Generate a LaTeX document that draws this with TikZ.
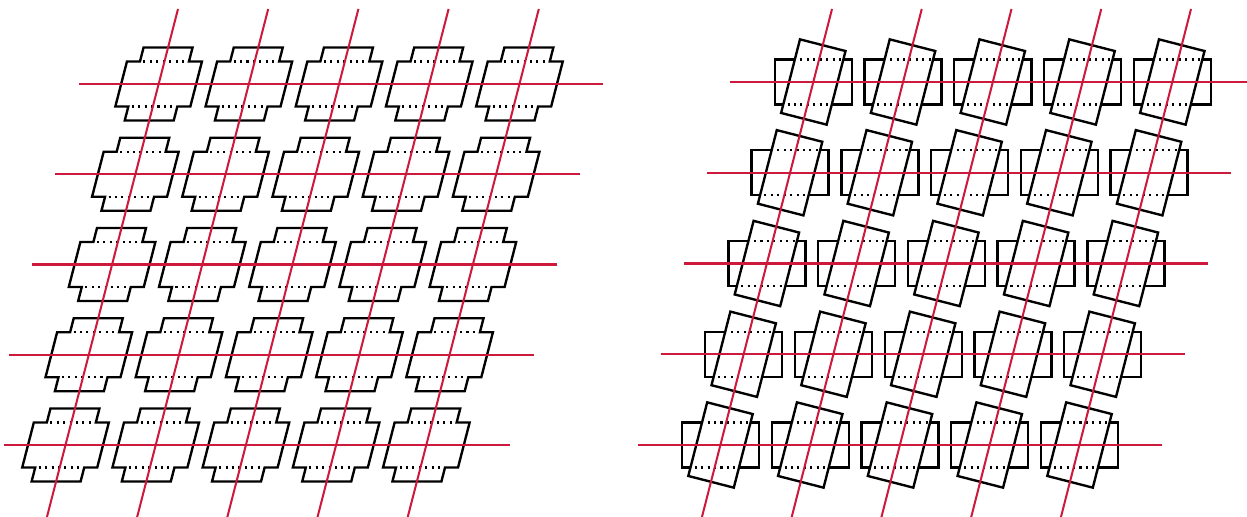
\documentclass[tikz,border=0pt]{standalone}
\definecolor{lred}{RGB}{205,25,60}
\begin{document}
\begin{tikzpicture}[x=0.02cm,y=-0.02cm,
  cellline/.style={line width=1.35pt, line join=miter},
  hid/.style={line width=1.15pt, dash pattern=on 1.15pt off 2.5pt},
  rl/.style={lred, line width=1.15pt}]
\useasboundingbox (0,0) rectangle (1247,517);
% left panel: sheared crosses
\foreach \r in {0,...,4}{
  \foreach \c in {0,...,4}{
    \pgfmathsetmacro\cx{158.65+90.2*\c-23.28*\r}
    \pgfmathsetmacro\cy{84+90.25*\r}
    \begin{scope}[shift={(\cx,\cy)}, xslant=0.258]
      \draw[cellline] (-24.5,-36.5) -- (24.5,-36.5) -- (24.5,-22.5) -- (37.5,-22.5) -- (37.5,22.5) -- (24.5,22.5) -- (24.5,36.5) -- (-24.5,36.5) -- (-24.5,22.5) -- (-37.5,22.5) -- (-37.5,-22.5) -- (-24.5,-22.5) -- cycle;
      \draw[hid] (-21,-22.5) -- (22,-22.5) (-21,22.5) -- (22,22.5);
    \end{scope}
  }
}
% right panel: rectangles with rotated rectangles
\foreach \r in {0,...,4}{
  \foreach \c in {0,...,4}{
    \pgfmathsetmacro\cx{813.3+89.75*\c-23.2*\r}
    \pgfmathsetmacro\cy{82+90.75*\r}
    \begin{scope}[shift={(\cx,\cy)}]
      \draw[cellline] (-38.5,-22.5) rectangle (38.5,22.5);
      \begin{scope}[rotate=-14.4]
        \fill[white] (-23.5,-38) rectangle (23.5,38);
        \begin{scope}
          \clip (-21.5,-36) rectangle (21.5,36);
          \draw[hid, rotate=14.4] (-38.5,-22.5) -- (38.5,-22.5) (-38.5,22.5) -- (38.5,22.5);
        \end{scope}
        \draw[cellline] (-23.5,-38) rectangle (23.5,38);
      \end{scope}
    \end{scope}
  }
}
% red guide lines, left
\foreach \r in {0,...,4}{
  \pgfmathsetmacro\xa{max(158.65-23.28*\r-80,4)}
  \pgfmathsetmacro\xb{158.65+360.8-23.28*\r+84}
  \pgfmathsetmacro\yy{84+90.25*\r}
  \draw[rl] (\xa,\yy) -- (\xb,\yy);
}
\foreach \c in {0,...,4}{
  \pgfmathsetmacro\xt{178+90.2*\c}
  \pgfmathsetmacro\xd{178+90.2*\c-0.258*508}
  \draw[rl] (\xt,9) -- (\xd,517);
}
% red guide lines, right
\foreach \r in {0,...,4}{
  \pgfmathsetmacro\xa{813.3-23.2*\r-83}
  \pgfmathsetmacro\xb{min(813.3+359-23.2*\r+82,1247)}
  \pgfmathsetmacro\yy{82+90.75*\r}
  \draw[rl] (\xa,\yy) -- (\xb,\yy);
}
\foreach \c in {0,...,4}{
  \pgfmathsetmacro\xt{832+89.75*\c}
  \pgfmathsetmacro\xd{832+89.75*\c-0.256*508}
  \draw[rl] (\xt,9) -- (\xd,517);
}
\end{tikzpicture}
\end{document}
